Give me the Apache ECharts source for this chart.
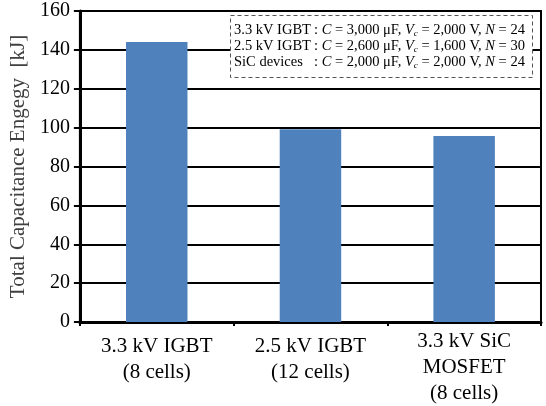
<!DOCTYPE html>
<html>
<head>
<meta charset="utf-8">
<script src="https://cdn.jsdelivr.net/npm/echarts@6/dist/echarts.min.js"></script>
<style>html,body{margin:0;padding:0;background:#fff}#c{width:546px;height:406px}</style>
</head>
<body>
<div id="c"></div>
<script>
var categories = ['3.3 kV IGBT\n(8 cells)', '2.5 kV IGBT\n(12 cells)', '3.3 kV SiC\nMOSFET\n(8 cells)'];
var energy = [144, 99.2, 95.7];
var yTicks = [0, 20, 40, 60, 80, 100, 120, 140, 160];
var yName = 'Total Capacitance Engegy  [kJ]';
var noteLabels = ['3.3 kV IGBT', '2.5 kV IGBT', 'SiC devices'];
var noteC = ['3,000', '2,600', '2,000'];
var noteV = ['2,000', '1,600', '2,000'];
var noteN = ['24', '30', '24'];

var FONT = "'Liberation Serif','Times New Roman',serif";
var chart = echarts.init(document.getElementById('c'));

var noteChildren = [{
  type: 'rect', shape: {x: 230.5, y: 15.5, width: 302, height: 62},
  style: {fill: '#fff', stroke: '#555', lineWidth: 1, lineDash: [4, 3]}, z: 100
}];
for (var i = 0; i < noteLabels.length; i++) {
  var y = 30 + i * 16;
  noteChildren.push({
    type: 'text', x: 234, y: y, z: 101,
    style: {text: noteLabels[i], font: '14.5px ' + FONT, fill: '#000', verticalAlign: 'middle', align: 'left'}
  });
  noteChildren.push({
    type: 'text', x: 314, y: y, z: 101,
    style: {
      text: '{t|: }{i|C}{t| = ' + noteC[i] + ' μF, }{i|V}{s|c}{t| = ' + noteV[i] + ' V, }{i|N}{t| = ' + noteN[i] + '}',
      verticalAlign: 'middle', align: 'left',
      rich: {
        t: {fontFamily: FONT, fontSize: 14.5, fill: '#000', lineHeight: 16, verticalAlign: 'middle'},
        i: {fontFamily: FONT, fontSize: 14.5, fontStyle: 'italic', fill: '#000', lineHeight: 16, verticalAlign: 'middle'},
        s: {fontFamily: FONT, fontSize: 9, fontStyle: 'italic', fill: '#000', lineHeight: 9, verticalAlign: 'bottom'}
      }
    }
  });
}

var catData = categories.map(function (c) {
  var lines = c.split('\n').length;
  return {value: c, textStyle: {padding: [lines < 3 ? 5 : 0, 0, 0, 0]}};
});

chart.setOption({
  animation: false,
  grid: {left: 78, right: 5, top: 11, bottom: 83, show: true, borderColor: '#000', borderWidth: 2, backgroundColor: 'transparent'},
  xAxis: {
    type: 'category', data: catData,
    axisLine: {show: true, lineStyle: {color: '#000', width: 3}},
    axisTick: {show: true, length: 4, lineStyle: {color: '#000', width: 2}},
    axisLabel: {color: '#000', fontFamily: FONT, fontSize: 21, lineHeight: 26, margin: 6, interval: 0}
  },
  yAxis: {
    type: 'value', min: 0, max: 160, interval: 20,
    name: yName, nameLocation: 'middle', nameGap: 45,
    nameTextStyle: {color: '#404040', fontFamily: FONT, fontSize: 21},
    axisLine: {show: true, lineStyle: {color: '#000', width: 3}},
    axisTick: {show: true, length: 6, lineStyle: {color: '#000', width: 2}},
    axisLabel: {color: '#000', fontFamily: FONT, fontSize: 20, margin: 10,
      formatter: function (v) { return yTicks.indexOf(v) >= 0 ? String(v) : ''; }},
    splitLine: {show: true, lineStyle: {color: '#000', width: 2}}
  },
  series: [{
    type: 'bar', data: energy, barWidth: '40%',
    itemStyle: {color: '#4F81BD'}
  }],
  graphic: [{type: 'group', children: noteChildren}]
});
</script>
</body>
</html>
